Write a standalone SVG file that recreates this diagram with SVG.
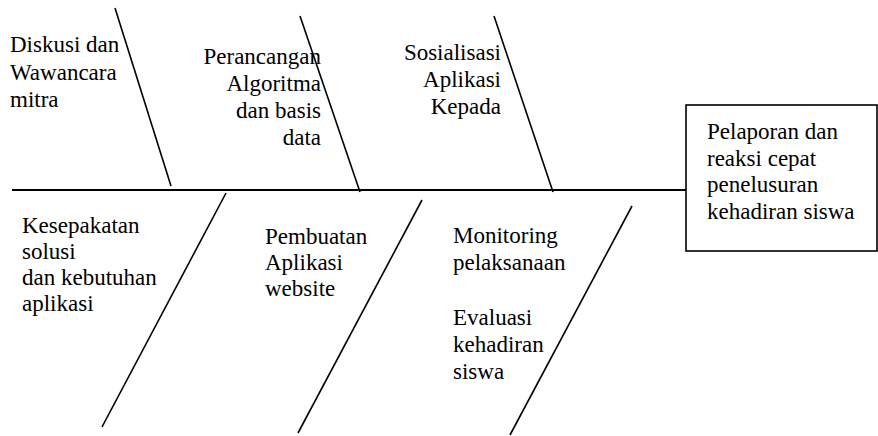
<svg xmlns="http://www.w3.org/2000/svg" width="878" height="436" viewBox="0 0 878 436" font-family="'Liberation Serif', 'Times New Roman', Tinos, 'DejaVu Serif', serif">
<style>
text{font-family:'Liberation Serif','Times New Roman',Tinos,serif;font-size:23px;fill:#000}
.r{text-anchor:end}
.bone{stroke:#000;stroke-width:1.6;fill:none}
.spine{stroke:#000;stroke-width:2;fill:none}
</style>
<rect width="878" height="436" fill="#fff"/>
<g id="connectors">
<line class="spine" x1="12" y1="190" x2="686" y2="190"/>
<line class="bone" x1="115" y1="8" x2="171" y2="186"/>
<line class="bone" x1="300" y1="16" x2="360" y2="192"/>
<line class="bone" x1="494" y1="16" x2="553" y2="192"/>
<line class="bone" x1="226" y1="193" x2="102" y2="427"/>
<line class="bone" x1="422" y1="200" x2="298" y2="433"/>
<line class="bone" x1="632" y1="206" x2="510" y2="435"/>
</g>
<g id="cause1"><text x="10" y="52">Diskusi dan</text><text x="10" y="80">Wawancara</text><text x="10" y="107">mitra</text></g>
<g id="cause2"><text class="r" x="321" y="64">Perancangan</text><text class="r" x="321" y="91">Algoritma</text><text class="r" x="321" y="118">dan basis</text><text class="r" x="321" y="145">data</text></g>
<g id="cause3"><text class="r" x="501" y="60">Sosialisasi</text><text class="r" x="501" y="87">Aplikasi</text><text class="r" x="501" y="114">Kepada</text></g>
<g id="cause4"><text x="22" y="233">Kesepakatan</text><text x="22" y="259">solusi</text><text x="22" y="285">dan kebutuhan</text><text x="22" y="311">aplikasi</text></g>
<g id="cause5"><text x="265" y="244">Pembuatan</text><text x="265" y="270">Aplikasi</text><text x="265" y="296">website</text></g>
<g id="cause6"><text x="453" y="243">Monitoring</text><text x="453" y="270">pelaksanaan</text><text x="453" y="325">Evaluasi</text><text x="453" y="352">kehadiran</text><text x="453" y="379">siswa</text></g>
<g id="effect"><rect x="686" y="105" width="191" height="146" fill="#fff" stroke="#000" stroke-width="1.6"/><text x="707" y="139">Pelaporan dan</text><text x="707" y="166">reaksi cepat</text><text x="707" y="192">penelusuran</text><text x="707" y="219">kehadiran siswa</text></g>
</svg>
